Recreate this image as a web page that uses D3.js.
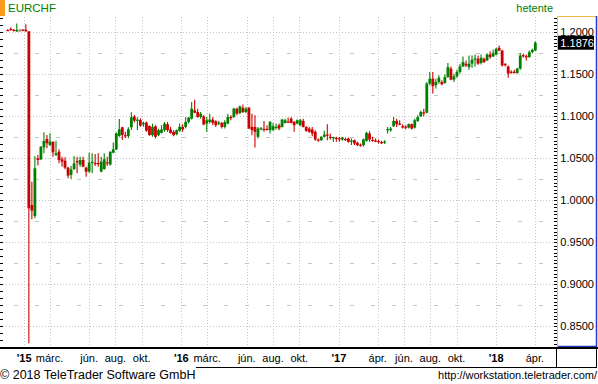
<!DOCTYPE html>
<html>
<head>
<meta charset="utf-8">
<script src="https://cdn.jsdelivr.net/npm/d3@7/dist/d3.min.js"></script>
<style>
body{margin:0;background:#fff}
svg{display:block;font-family:"Liberation Sans",Arial,sans-serif}
</style>
</head>
<body>
<svg></svg>
<script>
// EURCHF weekly candles (hetente), Nov 2014 - Apr 2018
const firstWeek = new Date(Date.UTC(2014, 10, 24))
const lastWeek = new Date(Date.UTC(2018, 3, 2))

const opens = [
	// 2014-11 .. 2015-10
	1.2027,1.2040,1.2030,1.2012,1.2025,1.2032,1.2030,1.2010,0.9944,0.9813,
	1.0500,1.0488,1.0631,1.0730,1.0659,1.0698,1.0540,1.0579,1.0488,1.0472,
	1.0389,1.0302,1.0373,1.0468,1.0425,1.0480,1.0389,1.0341,1.0445,1.0445,
	1.0445,1.0341,1.0373,1.0452,1.0425,1.0567,1.0607,1.0766,1.0869,1.0775,
	1.0766,1.0869,1.0996,1.0948,1.0956,1.0910,1.0925,1.0885,
	// 2015-10 .. 2016-09
	1.0776,1.0882,1.0776,1.0803,1.0835,1.0906,1.0843,1.0815,1.0787,1.0827,
	1.0874,1.0874,1.0933,1.0972,1.1071,1.1051,1.0992,1.1000,1.0913,1.0933,
	1.0961,1.0941,1.0913,1.0921,1.0874,1.0913,1.0992,1.0992,1.1091,1.1039,
	1.1102,1.1051,1.1102,1.0874,1.0874,1.0756,1.0850,1.0850,1.0850,1.0835,
	1.0835,1.0870,1.0894,1.0874,1.0921,1.0937,1.0972,1.0933,1.0913,
	// 2016-10 .. 2017-07
	1.0894,1.0945,1.0874,1.0854,1.0843,1.0815,1.0724,1.0716,1.0756,1.0783,
	1.0756,1.0740,1.0744,1.0740,1.0724,1.0730,1.0736,1.0700,1.0716,1.0685,
	1.0662,1.0657,1.0708,1.0795,1.0720,1.0712,1.0705,1.0693,1.0689,1.0835,
	1.0835,1.0882,1.0945,1.0913,1.0882,1.0878,1.0866,1.0906,1.0866,1.0945,
	1.1000,1.1047,
	// 2017-07 .. 2018-04
	1.1043,1.1389,1.1448,1.1370,1.1409,1.1409,1.1397,1.1468,1.1567,1.1437,
	1.1476,1.1527,1.1594,1.1626,1.1586,1.1626,1.1678,1.1685,1.1634,1.1685,
	1.1665,1.1736,1.1712,1.1736,1.1815,1.1783,1.1622,1.1594,1.1531,1.1531,
	1.1515,1.1567,1.1728,1.1716,1.1705,1.1764,1.1783
]
const highs = [
	1.2035,1.2060,1.2040,1.2105,1.2042,1.2040,1.2095,1.2015,1.0222,1.0528,
	1.0540,1.0645,1.0810,1.0778,1.0798,1.0700,1.0710,1.0607,1.0520,1.0512,
	1.0401,1.0409,1.0528,1.0520,1.0520,1.0520,1.0401,1.0567,1.0560,1.0552,
	1.0560,1.0520,1.0560,1.0520,1.0581,1.0687,1.0806,1.0968,1.0877,1.0817,
	1.0869,1.1048,1.1016,1.0988,1.0976,1.0937,1.0937,1.0890,
	1.0913,1.0894,1.0854,1.0894,1.0933,1.0933,1.0874,1.0835,1.0843,1.0913,
	1.0906,1.0992,1.0992,1.1169,1.1197,1.1091,1.1051,1.1012,1.0992,1.1031,
	1.0992,1.0953,1.0945,1.0933,1.0953,1.1031,1.1012,1.1102,1.1102,1.1130,
	1.1142,1.1110,1.1110,1.1031,1.1012,1.0874,1.0874,1.0945,1.0894,1.0945,
	1.0921,1.0913,1.0913,1.0972,1.0972,1.0984,1.0992,1.0945,1.0961,
	1.0972,1.0972,1.0882,1.0874,1.0874,1.0835,1.0736,1.0764,1.0827,1.0906,
	1.0795,1.0756,1.0756,1.0756,1.0756,1.0748,1.0748,1.0736,1.0724,1.0697,
	1.0677,1.0736,1.0815,1.0823,1.0756,1.0736,1.0724,1.0708,1.0716,1.0874,
	1.0874,1.0992,1.0972,1.0953,1.0906,1.0894,1.0913,1.0913,1.0972,1.1012,
	1.1070,1.1090,
	1.1409,1.1527,1.1527,1.1448,1.1488,1.1429,1.1500,1.1634,1.1594,1.1508,
	1.1555,1.1626,1.1712,1.1665,1.1724,1.1724,1.1736,1.1724,1.1736,1.1697,
	1.1752,1.1775,1.1791,1.1815,1.1843,1.1791,1.1634,1.1606,1.1547,1.1555,
	1.1578,1.1752,1.1744,1.1736,1.1783,1.1803,1.1894
]
const lows = [
	1.2015,1.2022,1.2010,1.2005,1.2010,1.2012,1.2008,0.8300,0.9774,0.9786,
	1.0413,1.0480,1.0560,1.0619,1.0647,1.0520,1.0528,1.0440,1.0401,1.0369,
	1.0262,1.0250,1.0361,1.0321,1.0401,1.0393,1.0282,1.0329,1.0321,1.0409,
	1.0401,1.0335,1.0365,1.0409,1.0413,1.0560,1.0599,1.0758,1.0718,1.0738,
	1.0738,1.0837,1.0925,1.0837,1.0877,1.0877,1.0817,1.0770,
	1.0756,1.0736,1.0764,1.0795,1.0815,1.0815,1.0795,1.0764,1.0776,1.0815,
	1.0815,1.0854,1.0913,1.0961,1.1035,1.0984,1.0972,1.0894,1.0815,1.0913,
	1.0894,1.0874,1.0894,1.0854,1.0854,1.0906,1.0953,1.0980,1.1012,1.1024,
	1.1039,1.1039,1.0850,1.0776,1.0630,1.0736,1.0835,1.0815,1.0835,1.0795,
	1.0827,1.0843,1.0835,1.0866,1.0913,1.0921,1.0913,1.0815,1.0906,
	1.0882,1.0866,1.0815,1.0803,1.0764,1.0708,1.0697,1.0708,1.0748,1.0716,
	1.0724,1.0697,1.0697,1.0697,1.0708,1.0708,1.0685,1.0657,1.0657,1.0646,
	1.0638,1.0638,1.0697,1.0697,1.0697,1.0693,1.0677,1.0669,1.0669,1.0795,
	1.0815,1.0874,1.0874,1.0894,1.0854,1.0843,1.0854,1.0843,1.0854,1.0933,
	1.0992,1.1000,
	1.1035,1.1370,1.1271,1.1330,1.1389,1.1370,1.1389,1.1460,1.1429,1.1409,
	1.1460,1.1508,1.1586,1.1586,1.1555,1.1578,1.1594,1.1614,1.1618,1.1634,
	1.1657,1.1685,1.1705,1.1724,1.1775,1.1594,1.1594,1.1460,1.1508,1.1508,
	1.1508,1.1555,1.1697,1.1665,1.1697,1.1752,1.1775
]
const closes = [
	1.2020,1.2028,1.2018,1.2028,1.2025,1.2024,1.2012,0.9905,0.9877,1.0381,
	1.0480,1.0639,1.0706,1.0679,1.0698,1.0571,1.0560,1.0480,1.0460,1.0389,
	1.0294,1.0369,1.0440,1.0452,1.0480,1.0401,1.0341,1.0448,1.0460,1.0432,
	1.0430,1.0460,1.0488,1.0440,1.0579,1.0607,1.0798,1.0845,1.0778,1.0766,
	1.0845,1.0988,1.0948,1.0960,1.0889,1.0920,1.0829,1.0778,
	1.0874,1.0756,1.0835,1.0843,1.0913,1.0835,1.0803,1.0776,1.0835,1.0874,
	1.0843,1.0933,1.0984,1.1091,1.1043,1.0992,1.1031,1.0902,1.0953,1.0961,
	1.0921,1.0894,1.0925,1.0874,1.0933,1.0992,1.0980,1.1091,1.1031,1.1118,
	1.1051,1.1091,1.0854,1.0835,1.0815,1.0854,1.0858,1.0843,1.0846,1.0933,
	1.0882,1.0876,1.0854,1.0961,1.0953,1.0929,1.0921,1.0894,1.0953,
	1.0953,1.0874,1.0827,1.0815,1.0795,1.0724,1.0716,1.0756,1.0783,1.0772,
	1.0744,1.0752,1.0732,1.0728,1.0748,1.0720,1.0697,1.0712,1.0677,1.0657,
	1.0655,1.0724,1.0803,1.0724,1.0712,1.0705,1.0697,1.0685,1.0700,1.0847,
	1.0854,1.0945,1.0906,1.0906,1.0866,1.0870,1.0906,1.0854,1.0953,1.0992,
	1.1051,1.1039,
	1.1389,1.1448,1.1358,1.1409,1.1460,1.1381,1.1468,1.1586,1.1437,1.1476,
	1.1527,1.1594,1.1646,1.1606,1.1626,1.1673,1.1688,1.1626,1.1697,1.1646,
	1.1736,1.1705,1.1752,1.1803,1.1783,1.1606,1.1614,1.1508,1.1523,1.1524,
	1.1567,1.1724,1.1720,1.1708,1.1764,1.1791,1.1876
]

// axis content
const priceTicks = [0.85, 0.90, 0.95, 1.00, 1.05, 1.10, 1.15, 1.20]
const tickDates = ["2015-01-01","2015-03-01","2015-06-01","2015-08-01","2015-10-01",
	"2016-01-01","2016-03-01","2016-06-01","2016-08-01","2016-10-01",
	"2017-01-01","2017-04-01","2017-06-01","2017-08-01","2017-10-01",
	"2018-01-01","2018-04-01"]
const tickLabels = ["'15","márc.","jún.","aug.","okt.",
	"'16","márc.","jún.","aug.","okt.",
	"'17","ápr.","jún.","aug.","okt.",
	"'18","ápr."]
const lastPrice = closes[closes.length - 1]

const W = 598, H = 384
const plot = {left: 0, right: 556, top: 16, bottom: 347}

const svg = d3.select("svg")
svg
	.attr("width", W)
	.attr("height", H)

const weeks = d3.utcMonday.range(firstWeek, d3.utcDay.offset(lastWeek, 1))
const data = weeks.map((d, i) => ({date: d, open: opens[i], high: highs[i], low: lows[i], close: closes[i]}))

const scaleX = d3.scaleUtc()
	.domain([new Date(Date.UTC(2014, 10, 6)), new Date(Date.UTC(2018, 4, 20))])
	.range([plot.left, plot.right])

const scaleY = d3.scaleLinear()
	.domain([0.8254, 1.2194])
	.range([plot.bottom, plot.top])

const parseDay = d3.utcParse("%Y-%m-%d")
const ticks = tickDates.map((d, i) => ({date: parseDay(d), label: tickLabels[i], year: tickLabels[i][0] === "'"}))

// grid
const grid = svg.append("g").attr("class", "grid")

grid.selectAll("line.h")
	.data(priceTicks)
	.enter()
	.append("line")
	.attr("x1", plot.left)
	.attr("x2", plot.right)
	.attr("y1", d => Math.round(scaleY(d)) + 0.5)
	.attr("y2", d => Math.round(scaleY(d)) + 0.5)
	.attr("stroke", "#c4c4c4")
	.attr("stroke-dasharray", "1,2")

grid.selectAll("line.mid")
	.data(priceTicks.slice(0, -1).map(d => d + 0.025))
	.enter()
	.append("line")
	.attr("x1", plot.left + 14)
	.attr("x2", plot.right)
	.attr("y1", d => Math.round(scaleY(d)) + 0.5)
	.attr("y2", d => Math.round(scaleY(d)) + 0.5)
	.attr("stroke", "#c4c4c4")
	.attr("stroke-dasharray", "4,17")

grid.selectAll("line.v")
	.data(ticks)
	.enter()
	.append("line")
	.attr("x1", d => Math.round(scaleX(d.date)) + 0.5)
	.attr("x2", d => Math.round(scaleX(d.date)) + 0.5)
	.attr("y1", plot.top + 1)
	.attr("y2", plot.bottom)
	.attr("stroke", "#c4c4c4")
	.attr("stroke-dasharray", "1,2")

// left edge ticks
const leftTicks = d3.range(0, 60).map(k => 0.85 + (k - 6) * 0.05 / 6).filter(v => v > 0.826 && v < 1.219)
svg.append("g")
	.selectAll("line")
	.data(leftTicks)
	.enter()
	.append("line")
	.attr("x1", 0)
	.attr("x2", 3)
	.attr("y1", d => Math.round(scaleY(d)) + 0.5)
	.attr("y2", d => Math.round(scaleY(d)) + 0.5)
	.attr("stroke", "#000")

// candles
svg.append("clipPath")
	.attr("id", "plotclip")
	.append("rect")
	.attr("x", plot.left)
	.attr("y", plot.top)
	.attr("width", plot.right - plot.left)
	.attr("height", plot.bottom - plot.top)

const colour = d => d.close > d.open ? "#008000" : (d.close < d.open ? "#cc0000" : "#808080")

const candles = svg.append("g")
	.attr("clip-path", "url(#plotclip)")
	.selectAll("g.candle")
	.data(data)
	.enter()
	.append("g")
	.attr("class", "candle")
	.attr("transform", d => `translate(${scaleX(d.date)},0)`)

candles
	.append("line")
	.attr("x1", 0)
	.attr("x2", 0)
	.attr("y1", d => scaleY(d.high))
	.attr("y2", d => scaleY(d.low))
	.attr("stroke", colour)
	.attr("stroke-width", 1.1)

candles
	.append("rect")
	.attr("x", -1.4)
	.attr("width", 2.8)
	.attr("y", d => scaleY(Math.max(d.open, d.close)))
	.attr("height", d => Math.max(1.2, Math.abs(scaleY(d.open) - scaleY(d.close))))
	.attr("fill", colour)

// right axis
const axisG = svg.append("g")
const minorTicks = d3.range(0, 120).map(k => 0.85 + (k - 12) * 0.05 / 12).filter(v => v > 0.826 && v < 1.219)
axisG.selectAll("line.minor")
	.data(minorTicks)
	.enter()
	.append("line")
	.attr("x1", 554)
	.attr("x2", 557)
	.attr("y1", d => Math.round(scaleY(d)) + 0.5)
	.attr("y2", d => Math.round(scaleY(d)) + 0.5)
	.attr("stroke", "#000")

axisG.append("path")
	.attr("d", `M557.5,${plot.bottom}V${plot.top + 0.5}H596`)
	.attr("fill", "none")
	.attr("stroke", "#f0b840")

axisG.append("path")
	.attr("d", `M596.5,${plot.top}V${plot.bottom - 0.5}H558`)
	.attr("fill", "none")
	.attr("stroke", "#1c3cc8")
	.attr("stroke-width", 1.5)

axisG.selectAll("text")
	.data(priceTicks)
	.enter()
	.append("text")
	.attr("x", 594)
	.attr("y", d => scaleY(d) + 4)
	.attr("text-anchor", "end")
	.attr("font-size", 11)
	.text(d => d3.format(".4f")(d))

const priceBox = svg.append("g")
	.attr("transform", `translate(0,${scaleY(lastPrice)})`)
priceBox.append("rect")
	.attr("x", 558)
	.attr("y", -7)
	.attr("width", 36)
	.attr("height", 14)
	.attr("fill", "#000")
priceBox.append("text")
	.attr("x", 594)
	.attr("y", 4)
	.attr("text-anchor", "end")
	.attr("font-size", 11)
	.attr("fill", "#fff")
	.text(d3.format(".4f")(lastPrice))

// x axis
svg.append("line")
	.attr("x1", 0)
	.attr("x2", W)
	.attr("y1", 348)
	.attr("y2", 348)
	.attr("stroke", "#000")
	.attr("stroke-width", 2)

svg.append("g")
	.selectAll("text")
	.data(ticks)
	.enter()
	.append("text")
	.attr("x", d => scaleX(d.date))
	.attr("y", 362)
	.attr("text-anchor", "middle")
	.attr("font-size", 11)
	.attr("font-weight", d => d.year ? "bold" : "normal")
	.text(d => d.label)

svg.append("path")
	.attr("d", "M556.5,349V367.5M596.5,349V367.5M196,367.5H597")
	.attr("fill", "none")
	.attr("stroke", "#000")

// header and footer
svg.append("rect")
	.attr("x", 0)
	.attr("y", 0)
	.attr("width", 5)
	.attr("height", 16)
	.attr("fill", "#f99c1c")

svg.append("text")
	.attr("x", 8)
	.attr("y", 12)
	.attr("font-size", 11.5)
	.attr("fill", "#008000")
	.text("EURCHF")

svg.append("text")
	.attr("x", 553)
	.attr("y", 12)
	.attr("text-anchor", "end")
	.attr("font-size", 11)
	.attr("fill", "#008000")
	.text("hetente")

svg.append("text")
	.attr("x", 0)
	.attr("y", 379)
	.attr("font-size", 12.5)
	.text("© 2018 TeleTrader Software GmbH")

svg.append("text")
	.attr("x", 597)
	.attr("y", 379)
	.attr("text-anchor", "end")
	.attr("font-size", 11)
	.text("http://workstation.teletrader.com/")
</script>
</body>
</html>
